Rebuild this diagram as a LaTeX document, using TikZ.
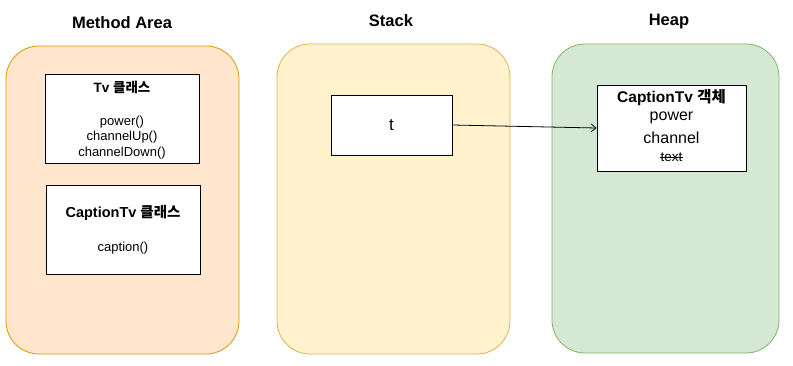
\documentclass[tikz,border=0pt]{standalone}
\usepackage{fontspec}
\setmainfont{Liberation Sans}
\newfontfamily\kr{Noto Sans CJK KR}
\usetikzlibrary{arrows.meta}
\definecolor{orfill}{HTML}{FFE6CC}
\definecolor{ordraw}{HTML}{D79B00}
\definecolor{yefill}{HTML}{FFF2CC}
\definecolor{yedraw}{HTML}{D6B656}
\definecolor{grfill}{HTML}{D5E8D4}
\definecolor{grdraw}{HTML}{82B366}
\tikzset{
  area/.style={rounded corners=33pt, line width=0.8pt},
  wbox/.style={draw=black, fill=white, line width=0.9pt},
  title/.style={font=\fontsize{16.5}{20}\selectfont\bfseries, inner sep=0pt},
  txt/.style={inner sep=0pt, anchor=center},
  small/.style={txt, font=\fontsize{13}{15}\selectfont}
}
\begin{document}
\begin{tikzpicture}[x=1pt,y=-1pt]
\useasboundingbox (0,0) rectangle (793,365);
% containers
\filldraw[area, fill=orfill, draw=ordraw] (6,46) rectangle (239,354);
\filldraw[area, fill=yefill, draw=yedraw] (277,44) rectangle (510,354);
\filldraw[area, fill=grfill, draw=grdraw] (552,44) rectangle (779,353);
% titles
\node[title] (tMethod) at (122,23) {Method Area};
\node[title] (tStack) at (391,21) {Stack};
\node[title] (tHeap) at (669,22) {Heap};
% Tv class box
\node[wbox, minimum width=154pt, minimum height=89pt, inner sep=0pt] (tv) at (122,118.5) {};
\node[txt, font=\fontsize{13.5}{16}\selectfont\bfseries] (tvT) at (122,87) {Tv {\kr 클래스}};
\node[small] (tv1) at (122,122) {power()};
\node[small] (tv2) at (122,137.5) {channelUp()};
\node[small] (tv3) at (122,153) {channelDown()};
% CaptionTv class box
\node[wbox, minimum width=154pt, minimum height=89pt, inner sep=0pt] (ctv) at (123,229.5) {};
\node[txt, font=\fontsize{14.5}{17}\selectfont\bfseries] (ctvT) at (123,213) {CaptionTv {\kr 클래스}};
\node[small] (ctv1) at (123,248) {caption()};
% t box
\node[wbox, minimum width=121pt, minimum height=60pt, inner sep=0pt, font=\fontsize{17}{20}\selectfont] (t) at (391.5,125) {t};
% object box
\node[wbox, minimum width=149pt, minimum height=86pt, inner sep=0pt] (obj) at (671.5,128) {};
\node[txt, font=\fontsize{15.5}{18}\selectfont\bfseries] (objT) at (671.5,98) {CaptionTv {\kr 객체}};
\node[txt, font=\fontsize{16}{19}\selectfont] (o1) at (671.5,118) {power};
\node[txt, font=\fontsize{16}{19}\selectfont] (o2) at (671.5,138) {channel};
\node[txt, font=\fontsize{13.5}{16}\selectfont] (o3) at (671.5,157) {text};
\draw[line width=0.7pt] ([yshift=-0.5pt]o3.west) -- ([yshift=-0.5pt]o3.east);
% arrow
\draw[line width=0.8pt, -{Straight Barb[length=5pt,width=8pt]}] (t.east) -- (obj.west);
\end{tikzpicture}
\end{document}
